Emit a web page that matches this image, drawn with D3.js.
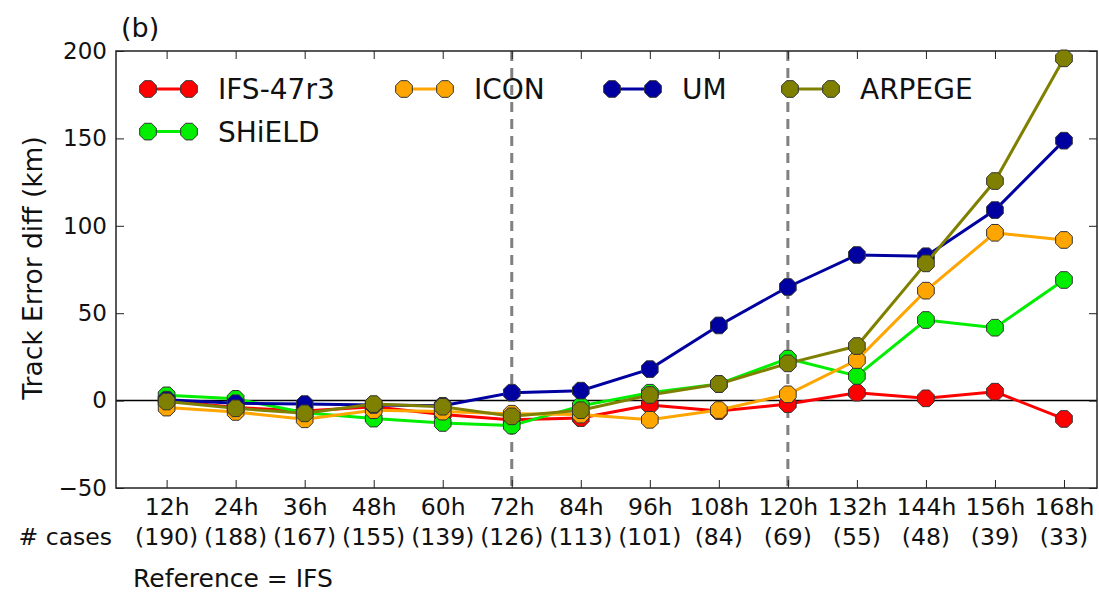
<!DOCTYPE html>
<html><head><meta charset="utf-8">
<script src="https://cdn.jsdelivr.net/npm/d3@7"></script>
<style>
html,body{margin:0;padding:0;background:#fff;}
svg{display:block;font-family:"DejaVu Sans",sans-serif;}
</style></head>
<body>
<svg id="chart" width="1099" height="595"></svg>
<script>
const leads = [12,24,36,48,60,72,84,96,108,120,132,144,156,168];
const leadLabels = ["12h","24h","36h","48h","60h","72h","84h","96h","108h","120h","132h","144h","156h","168h"];
const cases = ["(190)","(188)","(167)","(155)","(139)","(126)","(113)","(101)","(84)","(69)","(55)","(48)","(39)","(33)"];
const yTicks = [-50,0,50,100,150,200];
const markLeads = [72,120];

const ifs47r3 = [0,-4,-6,-3.5,-8,-11,-10,-2.5,-6,-2,4.5,1.3,5.1,-10.5];
const shield  = [3,1,-7,-10.3,-12.8,-14.3,-3,4.5,9.5,24,14.1,46.1,41.7,69];
const icon    = [-4,-6.5,-10.7,-5.5,-6.3,-7.5,-8,-11,-5.4,3.6,23.2,62.9,96,91.9];
const um      = [0.5,-1.5,-2,-2.5,-3,4.5,5.7,18,43,65,83.3,82.6,109,148.7];
const arpege  = [-0.5,-4.4,-7.3,-2,-3.5,-9,-5.5,3.2,9.5,21.3,31.2,78.5,125.6,195.8];

const seriesNames  = ["IFS-47r3","SHiELD","ICON","UM","ARPEGE"];
const seriesColors = ["#ff0000","#00ee00","#ffa500","#0000a0","#808000"];
const seriesData   = [ifs47r3, shield, icon, um, arpege];

const L = 116, R = 1097, T = 51, B = 488;
const svg = d3.select("#chart");
const x = d3.scaleLinear().domain([3.2, 173.74]).range([L, R]);
const y = d3.scaleLinear().domain([-50, 200]).range([B, T]);

// dashed reference lines
svg.append("g").selectAll("line").data(markLeads).join("line")
  .attr("x1", d => x(d)).attr("x2", d => x(d)).attr("y1", T).attr("y2", B)
  .attr("stroke", "#808080").attr("stroke-width", 3).attr("stroke-dasharray", "10,7");

// zero line
svg.append("line").attr("x1", L).attr("x2", R).attr("y1", y(0)).attr("y2", y(0))
  .attr("stroke", "#000").attr("stroke-width", 1.5);

// axes with inward ticks
const tk = 8;
const axB = svg.append("g").attr("transform", `translate(0,${B})`)
  .call(d3.axisBottom(x).tickValues(leads).tickSize(-tk).tickFormat((d,i) => leadLabels[i]).tickPadding(14));
const axT = svg.append("g").attr("transform", `translate(0,${T})`)
  .call(d3.axisTop(x).tickValues(leads).tickSize(-tk).tickFormat(""));
const axL = svg.append("g").attr("transform", `translate(${L},0)`)
  .call(d3.axisLeft(y).tickValues(yTicks).tickSize(-tk).tickPadding(9).tickFormat(d => d < 0 ? "\u2212" + Math.abs(d) : d));
const axR = svg.append("g").attr("transform", `translate(${R},0)`)
  .call(d3.axisRight(y).tickValues(yTicks).tickSize(-tk).tickFormat(""));
[axB, axT, axL, axR].forEach(a => {
  a.select(".domain").remove();
  a.selectAll(".tick line").attr("stroke", "#222").attr("stroke-width", 1);
  a.selectAll("text").attr("font-family", "DejaVu Sans").attr("fill", "#111");
});
axB.selectAll(".tick text").attr("font-size", 23.5).attr("dy", null).attr("y", 27);
axL.selectAll(".tick text").attr("font-size", 23).attr("x", -9);

// case counts
svg.append("g").selectAll("text").data(leads).join("text")
  .attr("x", d => x(d)).attr("y", 545).attr("text-anchor", "middle")
  .attr("font-size", 23.5).attr("fill", "#111").text((d,i) => cases[i]);
svg.append("text").attr("x", 112).attr("y", 545).attr("text-anchor", "end")
  .attr("font-size", 23.5).attr("fill", "#111").text("# cases");
svg.append("text").attr("x", 133).attr("y", 587)
  .attr("font-size", 25).attr("fill", "#111").text("Reference = IFS");

// frame
svg.append("rect").attr("x", L).attr("y", T).attr("width", R - L).attr("height", B - T)
  .attr("fill", "none").attr("stroke", "#222").attr("stroke-width", 1.5);

// octagon marker
const oct = (r) => {
  const pts = d3.range(8).map(k => {
    const a = Math.PI / 8 + k * Math.PI / 4;
    return [r * Math.cos(a), r * Math.sin(a)];
  });
  return "M" + pts.map(p => p.join(",")).join("L") + "Z";
};
const mr = 9;

const line = d3.line().x((d,i) => x(leads[i])).y(d => y(d));
seriesData.forEach((vals, s) => {
  const g = svg.append("g");
  g.append("path").datum(vals).attr("d", line).attr("fill", "none")
    .attr("stroke", seriesColors[s]).attr("stroke-width", 3);
  g.selectAll("path.m").data(vals).join("path").attr("class", "m")
    .attr("d", oct(mr))
    .attr("transform", (d,i) => `translate(${x(leads[i])},${y(d)})`)
    .attr("fill", seriesColors[s]).attr("stroke", "#333").attr("stroke-width", 1);
});

// legend
const legPos = [
  {mx: 148, ty: 89}, {mx: 148, ty: 131.6}, {mx: 404, ty: 89}, {mx: 612, ty: 89}, {mx: 790, ty: 89}
];
seriesNames.forEach((name, s) => {
  const p = legPos[s];
  const g = svg.append("g");
  g.append("line").attr("x1", p.mx).attr("x2", p.mx + 41).attr("y1", p.ty).attr("y2", p.ty)
    .attr("stroke", seriesColors[s]).attr("stroke-width", 3);
  [p.mx, p.mx + 41].forEach(cx => g.append("path").attr("d", oct(mr))
    .attr("transform", `translate(${cx},${p.ty})`)
    .attr("fill", seriesColors[s]).attr("stroke", "#333").attr("stroke-width", 1));
  g.append("text").attr("x", p.mx + 70).attr("y", p.ty + 10)
    .attr("font-size", 28).attr("fill", "#111").text(name);
});

// y label
svg.append("text").attr("transform", "translate(42,268) rotate(-90)")
  .attr("text-anchor", "middle").attr("font-size", 26.5).attr("fill", "#111")
  .text("Track Error diff (km)");

// panel label
svg.append("text").attr("x", 121).attr("y", 37).attr("font-size", 27).attr("fill", "#111").text("(b)");
</script>
</body></html>
